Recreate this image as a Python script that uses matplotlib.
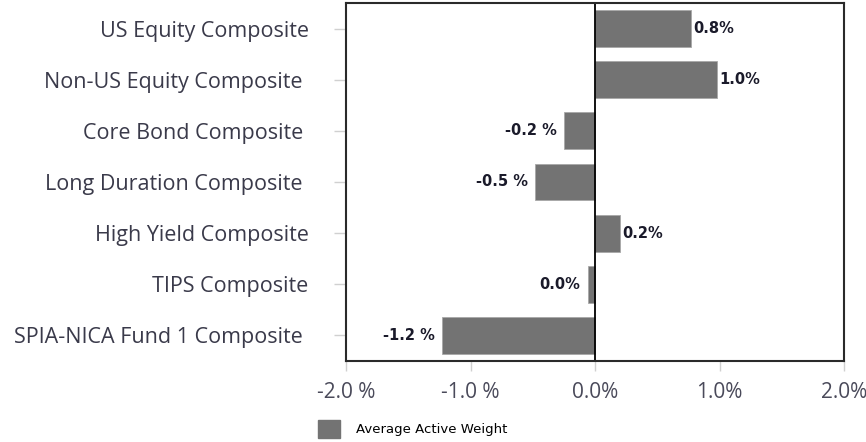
import matplotlib.pyplot as plt
from matplotlib.patches import Patch

# Daten
categories = ["US Equity Composite", "Non-US Equity Composite ", "Core Bond Composite ",
              "Long Duration Composite ", "High Yield Composite", "TIPS Composite",
              "SPIA-NICA Fund 1 Composite "]
weights = [0.77, 0.98, -0.25, -0.48, 0.20, -0.06, -1.23]
bar_labels = ["0.8%", "1.0%", "-0.2 %", "-0.5 %", "0.2%", "0.0%", "-1.2 %"]
xticks = [-2.0, -1.0, 0.0, 1.0, 2.0]
xtick_labels = ["-2.0 %", "-1.0 %", "0.0%", "1.0%", "2.0%"]

plt.rcParams["font.family"] = ["Open Sans", "DejaVu Sans"]

fig = plt.figure(figsize=(8.66, 4.42), dpi=100)
ax = fig.add_axes([346 / 866, 1 - 361 / 442, 498 / 866, 358 / 442])

pos = range(len(categories))
ax.barh(pos, weights, height=0.72, color="#737373", edgecolor="#a8a8a8", linewidth=0.6)

# Beschriftung der Balken
for i, (v, lab) in enumerate(zip(weights, bar_labels)):
    if v >= 0:
        ax.annotate(lab, (v, i), xytext=(2, 0), textcoords="offset points",
                    ha="left", va="center", fontsize=10.5, fontweight="bold",
                    family="DejaVu Sans", color="#1a1a2a")
    else:
        ax.annotate(lab, (v, i), xytext=(-5, 0), textcoords="offset points",
                    ha="right", va="center", fontsize=10.5, fontweight="bold",
                    family="DejaVu Sans", color="#1a1a2a")

ax.axvline(0, color="black", linewidth=1.3)

ax.set_xlim(-2.0, 2.0)
ax.set_ylim(len(categories) - 0.5, -0.5)
ax.set_yticks(list(pos))
ax.set_yticklabels(categories)
ax.set_xticks(xticks)
ax.set_xticklabels(xtick_labels)

ax.tick_params(axis="y", length=9, width=1, color="#d0d0d0", pad=18,
               labelsize=15.5, labelcolor="#3a3a4a")
ax.tick_params(axis="x", length=7, width=1, color="#d0d0d0", pad=8,
               labelsize=15, labelcolor="#4a4a5a")

for s in ax.spines.values():
    s.set_linewidth(1.5)
    s.set_color("#2a2a2a")

# Legende
handle = Patch(facecolor="#737373", edgecolor="#737373")
fig.legend([handle], ["Average Active Weight"], loc="center left",
           bbox_to_anchor=(306 / 866, 1 - 429 / 442), frameon=False,
           prop={"family": "DejaVu Sans", "size": 9.5},
           handlelength=1.7, handleheight=1.7, handletextpad=1.2)

fig.savefig("out.png", dpi=100)
